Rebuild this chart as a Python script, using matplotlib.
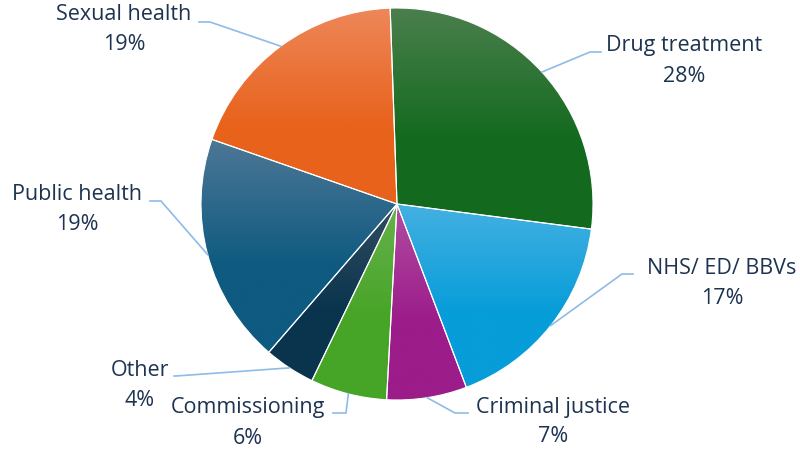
import numpy as np
import matplotlib.pyplot as plt
from matplotlib.colors import to_rgb

labels = ['Drug treatment', 'NHS/ ED/ BBVs', 'Criminal justice', 'Commissioning',
          'Other', 'Public health', 'Sexual health']
values = [27.6, 17.2, 6.6, 6.3, 4.2, 19.0, 19.1]
top_colors = ['#4b7f4e', '#45b0e2', '#b04ea2', '#66b24c', '#314d61', '#4d7796', '#ee8759']
base_colors = ['#136a1e', '#069dd9', '#9c1c8a', '#46a426', '#0a344e', '#0e5a80', '#e8621c']

# label layout in pixels from the top-left: text centre, elbow of leader, end of leader
label_pos = [(684, 46), (722, 268), (553, 407), (248, 408), (140, 370), (77, 194), (124, 15)]
elbows = [(590, 52), (622, 274), (455, 413), (346, 413), (176, 376), (161, 201), (210, 22)]
ends = [601, 633, 468, 333, 174, 150, 199]

W, H = 800, 450
text_color = '#1d3350'
line_color = '#8ebbe8'
fsize = 15.5

fig = plt.figure(figsize=(8, 4.5), dpi=100)
ax = fig.add_axes([0, 0, 1, 1])

wedges, _ = ax.pie(values, startangle=92, counterclock=False, center=(397, H - 204),
                   radius=196, wedgeprops=dict(edgecolor='white', linewidth=0.8))

for w, c_top, c_base in zip(wedges, top_colors, base_colors):
    w.set_facecolor('none')
    bb = w.get_path().get_extents()
    x0, y0, x1, y1 = bb.x0, bb.y0, bb.x1, bb.y1
    t = np.linspace(0, 1, 200)
    t = np.clip(t / 0.6, 0, 1)
    a, b = np.array(to_rgb(c_top)), np.array(to_rgb(c_base))
    grad = a[None, :] * (1 - t[:, None]) + b[None, :] * t[:, None]
    img = ax.imshow(grad[:, None, :], extent=(x0, x1, y0, y1), origin='upper',
                    aspect='auto', interpolation='bilinear', zorder=1)
    img.set_clip_path(w)
    w.set_zorder(2)

for w, lab, val, (tx, ty), (ex, ey), endx in zip(wedges, labels, values, label_pos, elbows, ends):
    mid = np.deg2rad((w.theta1 + w.theta2) / 2)
    cx, cy = w.center
    px, py = cx + w.r * np.cos(mid), cy + w.r * np.sin(mid)
    ax.plot([px, ex, endx], [py, H - ey, H - ey], color=line_color, lw=1.2, zorder=3)
    ax.text(tx, H - ty, lab, ha='center', va='center', fontsize=fsize,
            family='Open Sans', color=text_color)
    ax.text(tx, H - ty - 30, '%.0f%%' % val, ha='center', va='center', fontsize=fsize,
            family='Open Sans', color=text_color)

ax.set_xlim(0, W)
ax.set_ylim(0, H)
ax.set_aspect('equal')
ax.axis('off')
fig.savefig('out.png', dpi=100, facecolor='white')
